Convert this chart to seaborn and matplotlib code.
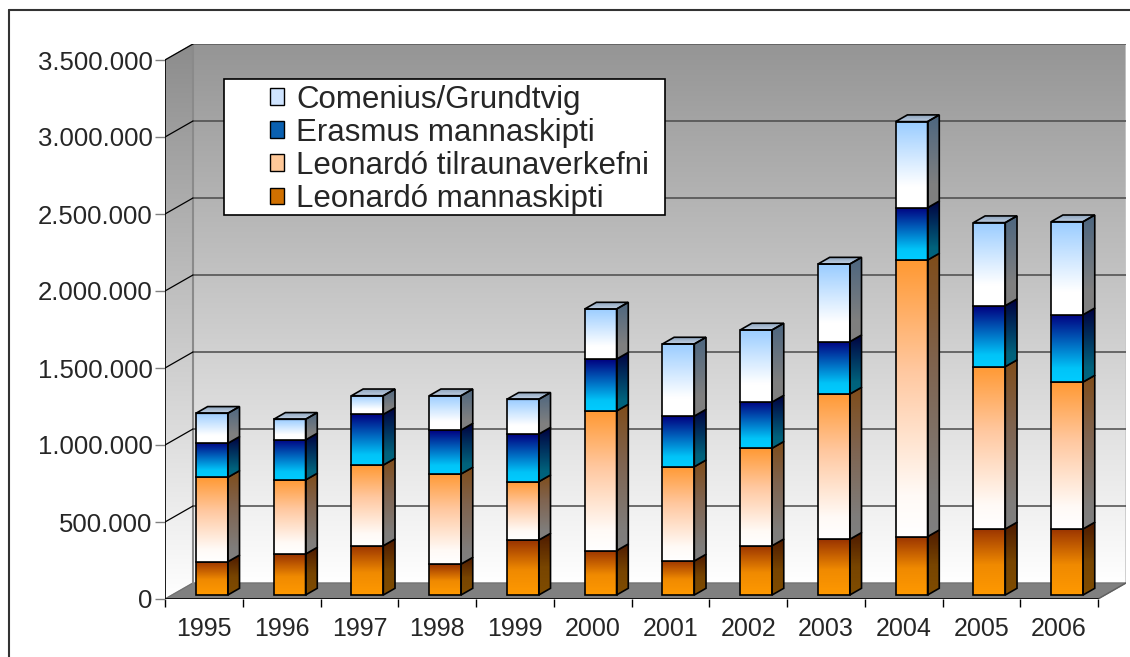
import matplotlib
matplotlib.use('Agg')
import matplotlib.pyplot as plt
import numpy as np
import pandas as pd
import seaborn as sns
from matplotlib.colors import LinearSegmentedColormap
from matplotlib.patches import Polygon, Rectangle, Patch
from matplotlib.lines import Line2D

# data
years = ['1995', '1996', '1997', '1998', '1999', '2000',
         '2001', '2002', '2003', '2004', '2005', '2006']
leo_mann = [216000, 266000, 320000, 201000, 357000, 288000,
            221000, 320000, 362000, 379000, 429000, 429000]
leo_tilr = [548000, 481000, 524000, 585000, 379000, 907000,
            612000, 633000, 943000, 1796000, 1054000, 954000]
erasmus = [221000, 260000, 329000, 285000, 309000, 337000,
           329000, 300000, 340000, 340000, 396000, 437000]
comenius = [195000, 134000, 121000, 223000, 226000, 325000,
            468000, 468000, 504000, 559000, 539000, 604000]
series = ['Leonardó mannaskipti', 'Leonardó tilraunaverkefni',
          'Erasmus mannaskipti', 'Comenius/Grundtvig']
yticks = [0, 500000, 1000000, 1500000, 2000000, 2500000, 3000000, 3500000]

df = pd.DataFrame({'year': years, series[0]: leo_mann, series[1]: leo_tilr,
                   series[2]: erasmus, series[3]: comenius})
cum = df[series].cumsum(axis=1)

# gradient stops bottom -> top for each series front face
grads = {
    series[0]: [(0, '#ff9900'), (0.45, '#f08a00'), (1, '#993300')],
    series[1]: [(0, '#ffffff'), (0.15, '#fffaf6'), (0.6, '#ffc8a0'), (1, '#ff9933')],
    series[2]: [(0, '#00ccff'), (0.2, '#00c4f8'), (1, '#000080')],
    series[3]: [(0, '#ffffff'), (0.25, '#ffffff'), (1, '#99ccff')],
}
leg_colors = ['#d07000', '#ffc898', '#0a60b0', '#cfe4ff']

sns.set_style('white')
plt.rcParams['font.family'] = ['Liberation Sans', 'DejaVu Sans']

W, H, DPI = 1130, 657, 100
fig = plt.figure(figsize=(W / DPI, H / DPI), dpi=DPI)
# front plane: x 165..1098 px, y 599..60 px ; back wall shifted (28, 16) px
PX = 12 / 933
PY = 3.5e6 / 539
DX, DY = 28 * PX, 16 * PY
BX, BY = 8 * PX, 4 * PY
SX, SY = 11.7 * PX, 6.7 * PY
ax = fig.add_axes([165 / W, (H - 599) / H, 961 / W, 555 / H])


def darker(stops, f=0.5):
    out = []
    for p, c in stops:
        r, g, b = matplotlib.colors.to_rgb(c)
        out.append((p, (r * f, g * f, b * f)))
    return out


def grad_poly(verts, stops, z, edge='black', lw=1.0):
    poly = Polygon(verts, closed=True, facecolor='none', edgecolor=edge, lw=lw, zorder=z + 0.05)
    ax.add_patch(poly)
    xs = [v[0] for v in verts]
    ys = [v[1] for v in verts]
    cmap = LinearSegmentedColormap.from_list('g', stops)
    img = np.linspace(0, 1, 256).reshape(-1, 1)
    im = ax.imshow(img, cmap=cmap, extent=[min(xs), max(xs), min(ys), max(ys)],
                   origin='lower', aspect='auto', zorder=z, interpolation='bilinear')
    im.set_clip_path(poly)
    return poly


wall = [(0, '#ffffff'), (1, '#959595')]
top_v = yticks[-1]
# back wall
grad_poly([(-0.5 + DX, DY), (11.5 + DX, DY), (11.5 + DX, top_v + DY), (-0.5 + DX, top_v + DY)],
          wall, 0.5, edge='#c8c8c8', lw=1.2)
# left wall
grad_poly([(-0.5, 0), (-0.5 + DX, DY), (-0.5 + DX, top_v + DY), (-0.5, top_v)],
          [(0, '#ffffff'), (1, '#8c8c8c')], 0.5, edge='#a0a0a0', lw=1.0)
# floor
ax.add_patch(Polygon([(-0.5, 0), (11.5, 0), (11.5 + DX, DY), (-0.5 + DX, DY)],
                     closed=True, facecolor='#808080', edgecolor='#707070', lw=0.8, zorder=0.6))
ax.plot([-0.5 + DX, -0.5 + DX], [DY, top_v + DY], color='#8a8a8a', lw=1.5, zorder=0.7)
for v in yticks[1:]:
    ax.plot([-0.5 + DX, 11.5 + DX], [v + DY, v + DY], color='#4a4a4a', lw=1.1, zorder=0.7)
    ax.plot([-0.5, -0.5 + DX], [v, v + DY], color='black', lw=0.9, zorder=0.7)
ax.plot([11.5, 11.5 + DX], [0, DY], color='#606060', lw=1.0, zorder=0.7)

# stacked bars (front faces via seaborn, then 3D side/top faces)
for k, name in enumerate(series):
    n0 = len(ax.patches)
    sns.barplot(x=df['year'], y=cum[name], width=0.41, color='white', ax=ax, zorder=3)
    new = ax.patches[n0:]
    bottoms = cum[series[k - 1]] if k > 0 else pd.Series([0] * len(years))
    for i, p in enumerate(new):
        x0 = p.get_x() + BX
        w = p.get_width()
        x1 = x0 + w
        y0 = bottoms.iloc[i] + BY
        y1 = cum[name].iloc[i] + BY
        p.set_visible(False)
        zb = 3 + k * 0.1
        grad_poly([(x0, y0), (x1, y0), (x1, y1), (x0, y1)], grads[name], zb, lw=1.2)
        grad_poly([(x1, y0), (x1 + SX, y0 + SY), (x1 + SX, y1 + SY), (x1, y1)],
                  darker(grads[name]), zb, lw=1.2)
        if k == len(series) - 1:
            grad_poly([(x0, y1), (x1, y1), (x1 + SX, y1 + SY), (x0 + SX, y1 + SY)],
                      [(0, '#c0d0e4'), (1, '#8ea4bc')], zb + 0.02, lw=1.2)

# axes lines and ticks
ax.set_xlim(-0.5, 11.5 + DX)
ax.set_ylim(0, top_v + DY)
for s in ax.spines.values():
    s.set_visible(False)
ax.plot([-0.5, -0.5], [0, top_v], color='black', lw=1.2, zorder=2)
ax.plot([-0.5, 11.5], [0, 0], color='black', lw=1.2, zorder=2)
ax.set_yticks(yticks)
ax.set_yticklabels([f'{v:,.0f}'.replace(',', '.') for v in yticks], fontsize=18.5)
ax.tick_params(axis='y', direction='out', length=7, width=1, color='#808080', pad=2, left=True)
ax.set_xticks(range(len(years)))
ax.set_xticklabels(years, fontsize=18)
ax.set_xticks(np.arange(-0.5, 12, 1), minor=True)
ax.tick_params(axis='x', which='major', length=0, pad=13)
ax.tick_params(axis='x', which='minor', direction='out', length=6, width=1, color='black', bottom=True)
ax.set_xlabel('')
ax.set_ylabel('')

# legend box
ax.add_patch(Rectangle((224 / W, 1 - 215 / H), 441 / W, 136 / H, transform=fig.transFigure,
                       facecolor='white', edgecolor='black', lw=1.2, zorder=10, clip_on=False))
handles = [Patch(facecolor=leg_colors[k], edgecolor='black', label=series[k]) for k in range(4)][::-1]
leg = ax.legend(handles=handles, loc='upper left', bbox_to_anchor=(265 / W, 1 - 80 / H),
                bbox_transform=fig.transFigure, frameon=False, fontsize=22.5,
                handlelength=0.45, handleheight=0.45, handletextpad=0.4,
                labelspacing=0.1, borderaxespad=0, borderpad=0.15)
leg.set_zorder(11)

# chart border
fig.add_artist(Line2D([9 / W, 9 / W], [0, 1 - 10 / H], color='#333333', lw=1.5))
fig.add_artist(Line2D([9 / W, 1], [1 - 10 / H, 1 - 10 / H], color='#333333', lw=1.5))

fig.savefig('out.png', dpi=DPI)
